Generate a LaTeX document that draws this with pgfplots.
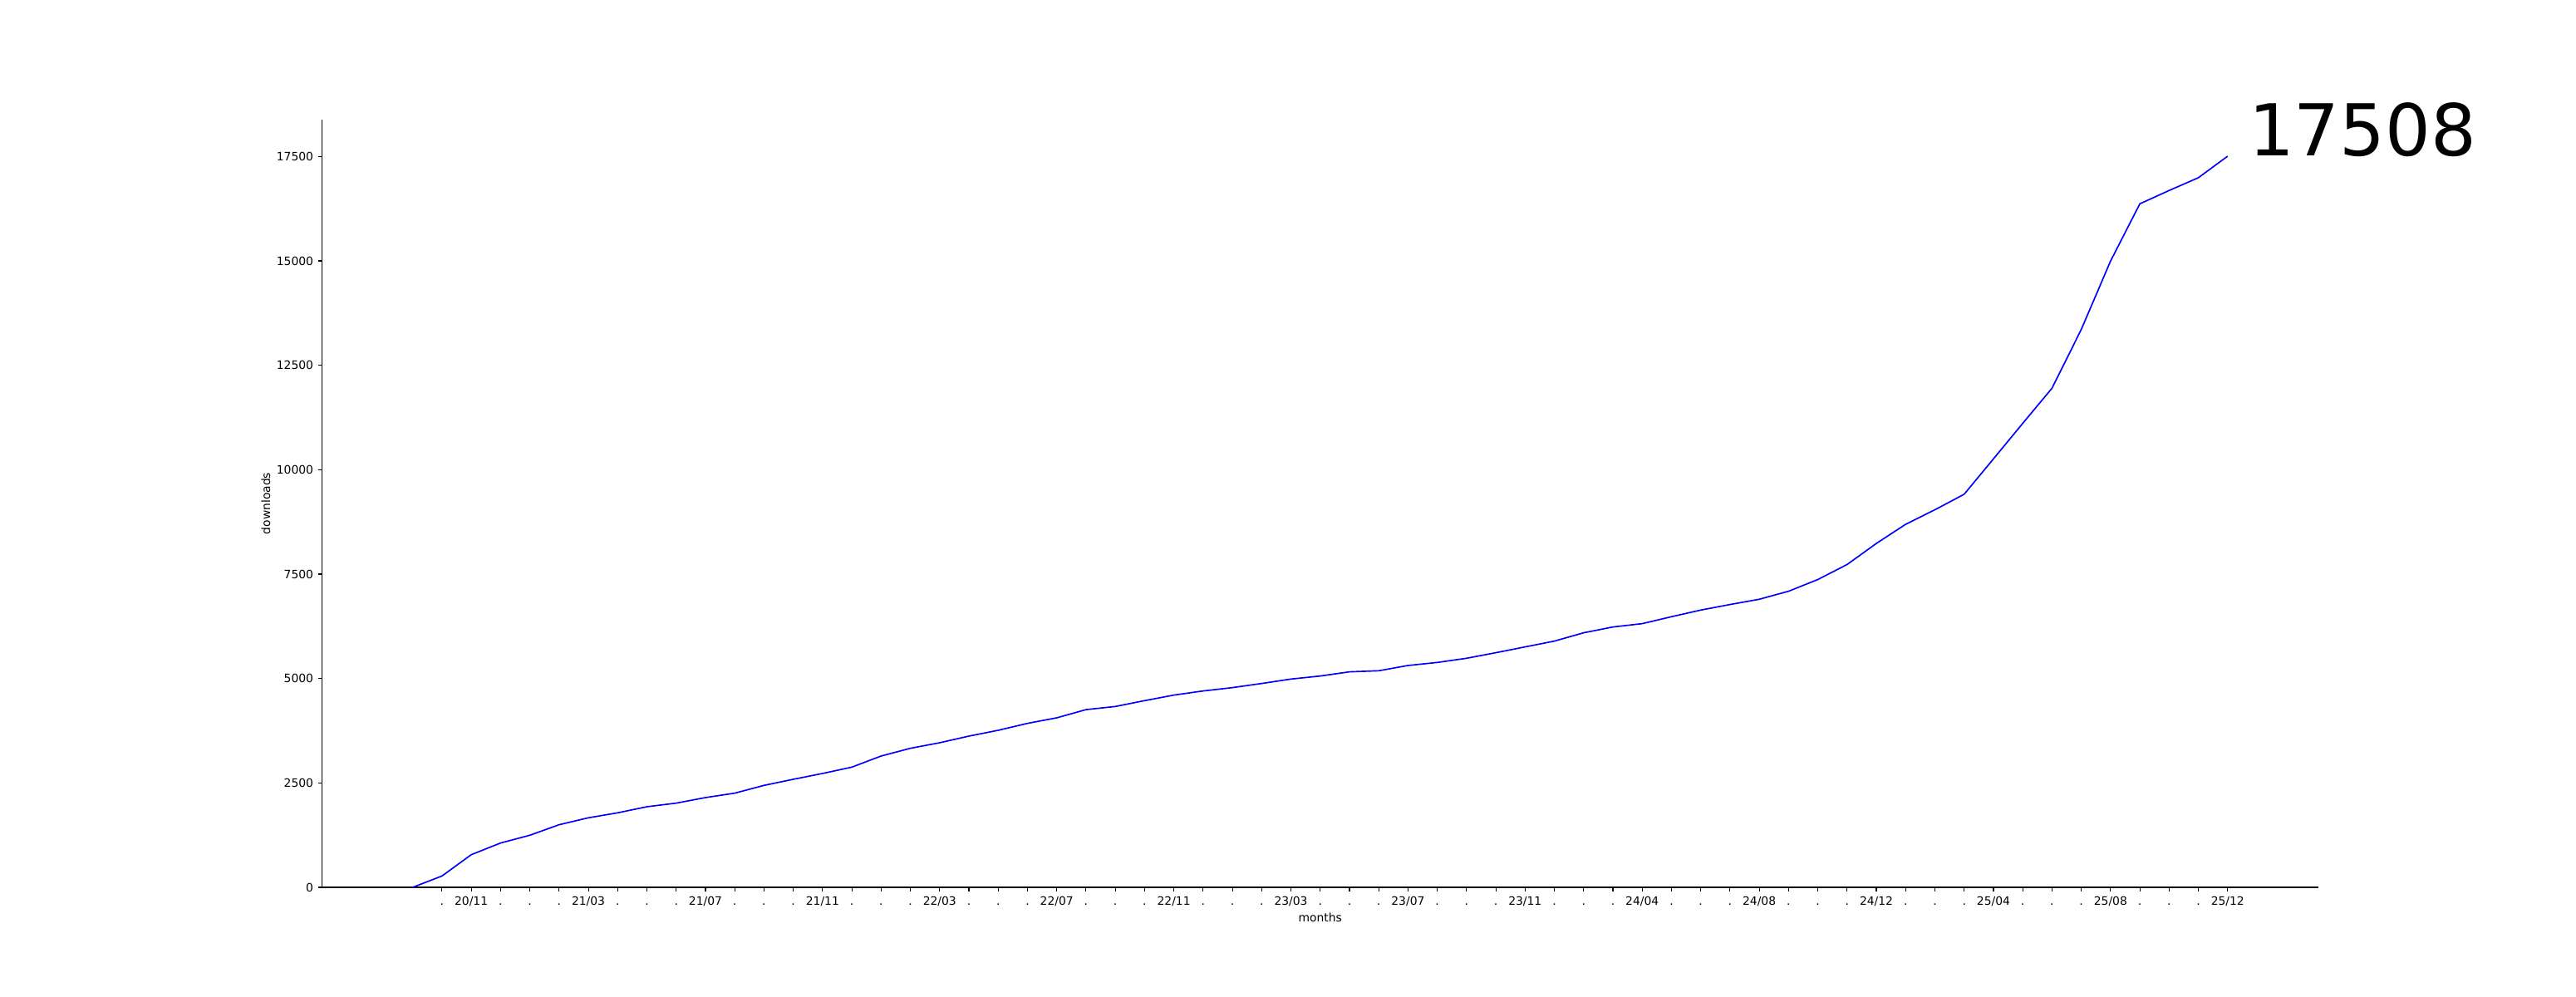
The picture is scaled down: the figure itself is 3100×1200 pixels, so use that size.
\documentclass[border=0pt]{standalone}
\usepackage{fontspec}
\setmainfont{DejaVu Sans}
\usepackage{pgfplots}
\pgfplotsset{compat=1.18}
\begin{document}
\begin{tikzpicture}[x=0.72pt,y=0.72pt]
\path[use as bounding box] (0,0) rectangle (3100,1200);
\begin{axis}[
  at={(279pt,95.04pt)}, anchor=south west,
  width=1729.8pt, height=665.28pt, scale only axis,
  xmin=-3.1, xmax=65.1, ymin=0, ymax=18383.4,
  axis x line=bottom, axis y line=left,
  axis line style={-, line width=0.8pt, black},
  xtick align=outside, ytick align=outside, major tick length=3.5pt,
  every tick/.style={line width=0.8pt, black},
  xtick={1,...,62},
  xticklabels={.,20/11,.,.,.,21/03,.,.,.,21/07,.,.,.,21/11,.,.,.,22/03,.,.,.,22/07,.,.,.,22/11,.,.,.,23/03,.,.,.,23/07,.,.,.,23/11,.,.,.,24/04,.,.,.,24/08,.,.,.,24/12,.,.,.,25/04,.,.,.,25/08,.,.,.,25/12},
  ytick={0,2500,5000,7500,10000,12500,15000,17500},
  scaled y ticks=false,
  /pgf/number format/1000 sep={},
  /pgf/number format/fixed,
  /pgf/number format/assume math mode=true,
  tick label style={font=\fontsize{10}{12}\selectfont},
  xticklabel style={inner sep=0pt, anchor=north, text height=7.5pt, text depth=0pt, yshift=-4pt},
  yticklabel style={inner sep=0pt, anchor=east, xshift=-3.8pt},
  xlabel={months}, ylabel={downloads},
  label style={font=\fontsize{10}{12}\selectfont},
  xlabel style={at={([yshift=-22pt]axis description cs:0.5,0)}, anchor=north, inner sep=0pt},
  ylabel style={at={([xshift=-48.6pt]axis description cs:0,0.5)}, anchor=center, inner sep=0pt},
  clip=false,
]
\addplot[color={rgb,1:red,0;green,0;blue,1}, line width=1.2pt, mark=none] coordinates {
(0,0) (1,272) (2,782) (3,1061) (4,1247) (5,1499) (6,1665) (7,1784) (8,1930) (9,2016)
(10,2149) (11,2255) (12,2441) (13,2587) (14,2726) (15,2878) (16,3144) (17,3329) (18,3462) (19,3621)
(20,3760) (21,3926) (22,4059) (23,4255) (24,4330) (25,4470) (26,4603) (27,4702) (28,4782) (29,4881)
(30,4987) (31,5060) (32,5160) (33,5186) (34,5312) (35,5385) (36,5485) (37,5618) (38,5757) (39,5896)
(40,6095) (41,6234) (42,6314) (43,6480) (44,6639) (45,6772) (46,6898) (47,7090) (48,7370) (49,7730)
(50,8235) (51,8693) (52,9041) (53,9413) (54,10260) (55,11110) (56,11951) (57,13359) (58,14996) (59,16367)
(60,16686) (61,16992) (62,17508)
};
\node[anchor=base west, inner sep=0pt, font=\fontsize{62}{74}\selectfont] at (axis cs:62.71,17508) {17508};
\end{axis}
\end{tikzpicture}
\end{document}
